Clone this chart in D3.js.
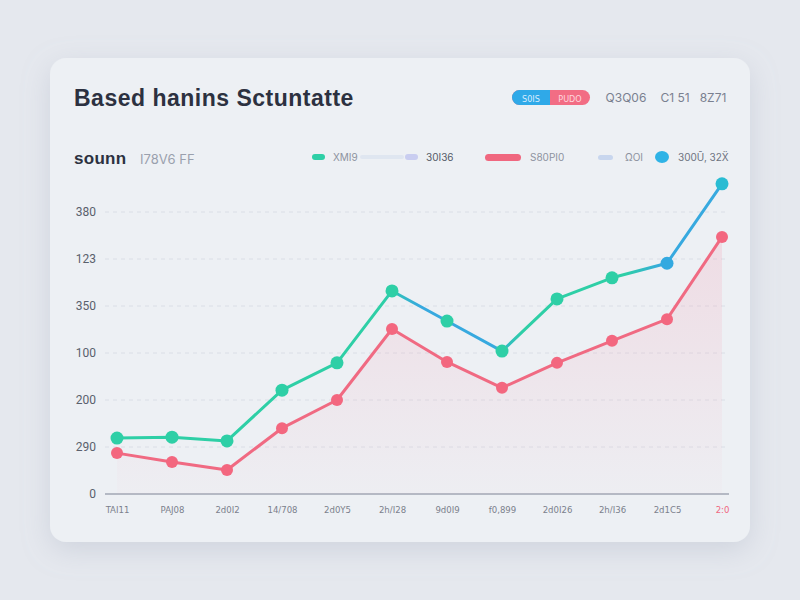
<!DOCTYPE html>
<html><head><meta charset="utf-8">
<script src="https://cdn.jsdelivr.net/npm/d3@7"></script>
<style>
html,body{margin:0;padding:0;background:#e5e8ee;}
svg{display:block;font-family:"Inter","Roboto",sans-serif;}
</style></head>
<body>
<svg id="c" width="800" height="600"></svg>
<script>
// ---- data ----
const categories = ["TAI11","PAJ08","2d0I2","14/708","2d0Y5","2h/I28","9d0I9","f0,899","2d0I26","2h/I36","2d1C5","2:0"];
const topSeries = [119, 121, 113, 221, 279, 432, 368, 304, 415, 460, 491, 660];
const pinkSeries = [87, 68, 51, 140, 200, 351, 281, 226, 279, 326, 372, 547];
const yTickValues = [0, 100, 200, 300, 400, 500, 600];
const yTickLabels = ["0", "290", "200", "100", "350", "123", "380"];
const titleText = "Based hanins Sctuntatte";
const subtitleBold = "sounn";
const subtitleLight = "I78V6 FF";
const pillLabels = ["S0IS", "PUDO"];
const headerStats = ["Q3Q06", "C1 51", "8Z71"];
const legendLabels = ["XMI9", "30I36", "S80PI0", "ΩOI", "300Ũ, 32Ẍ"];

const svg = d3.select("#c");
const defs = svg.append("defs");

// shadow
const f = defs.append("filter").attr("id","sh").attr("x","-20%").attr("y","-20%").attr("width","140%").attr("height","140%");
f.append("feDropShadow").attr("dx",0).attr("dy",8).attr("stdDeviation",14).attr("flood-color","#9aa3b5").attr("flood-opacity",0.3);

// card
svg.append("rect").attr("x",50).attr("y",58).attr("width",700).attr("height",484).attr("rx",16)
  .attr("fill","#edf0f4").attr("filter","url(#sh)");

// title
svg.append("text").attr("x",74).attr("y",106).text(titleText)
  .attr("font-size",23).attr("font-weight",700).attr("fill","#2c3140").attr("font-family","Liberation Sans, Arial, sans-serif").attr("letter-spacing",0.5);

// pill
svg.append("rect").attr("x",512).attr("y",90).attr("width",78).attr("height",15).attr("rx",7.5).attr("fill","#f26d84");
svg.append("path").attr("d","M550,90 H519.5 A7.5,7.5 0 0 0 519.5,105 H550 Z").attr("fill","#2fa9e8");
svg.append("text").attr("x",531).attr("y",101.5).attr("text-anchor","middle").attr("font-size",9).attr("fill","#d8ecff").attr("font-family","DejaVu Sans Condensed, sans-serif").text(pillLabels[0]);
svg.append("text").attr("x",570).attr("y",101.5).attr("text-anchor","middle").attr("font-size",9).attr("fill","#ffd6de").attr("font-family","DejaVu Sans Condensed, sans-serif").text(pillLabels[1]);
const statX = [626, 675, 713];
headerStats.forEach((s,i)=>{
  svg.append("text").attr("x",statX[i]).attr("y",102).attr("text-anchor","middle").attr("font-size",12).attr("fill","#7a8090").text(s);
});

// subtitle
svg.append("text").attr("x",74).attr("y",164).attr("font-size",17).attr("font-weight",700).attr("fill","#2c3140")
  .attr("font-family","Liberation Sans, Arial, sans-serif").attr("letter-spacing",0.3).text(subtitleBold);
svg.append("text").attr("x",140).attr("y",164).attr("font-size",13).attr("fill","#9aa0ad").text(subtitleLight);

// legend
const lg = svg.append("g");
lg.append("rect").attr("x",312).attr("y",154).attr("width",13).attr("height",6).attr("rx",3).attr("fill","#2ecfa6");
lg.append("text").attr("x",333).attr("y",161).attr("font-size",10).attr("fill","#8d93a0").text(legendLabels[0]);
lg.append("rect").attr("x",360).attr("y",155).attr("width",44).attr("height",4).attr("rx",2).attr("fill","#dfe6f0");
lg.append("rect").attr("x",405).attr("y",154).attr("width",13).attr("height",6).attr("rx",3).attr("fill","#c9cdf0");
lg.append("text").attr("x",426).attr("y",161).attr("font-size",10).attr("fill","#555b68").text(legendLabels[1]);
lg.append("rect").attr("x",485).attr("y",154).attr("width",36).attr("height",7).attr("rx",3.5).attr("fill","#f0677f");
lg.append("text").attr("x",530).attr("y",161).attr("font-size",10).attr("fill","#8d93a0").text(legendLabels[2]);
lg.append("rect").attr("x",598).attr("y",155).attr("width",15).attr("height",5).attr("rx",2.5).attr("fill","#c8d6ee");
lg.append("text").attr("x",625).attr("y",161).attr("font-size",10).attr("fill","#8d93a0").text(legendLabels[3]);
lg.append("ellipse").attr("cx",662).attr("cy",157).attr("rx",7).attr("ry",6).attr("fill","#2fb3e6");
lg.append("text").attr("x",678).attr("y",161).attr("font-size",10).attr("fill","#6d7380").text(legendLabels[4]);

// scales
const x = d3.scalePoint().domain(categories).range([117, 722]);
const y = d3.scaleLinear().domain([0, 600]).range([494, 212]);

// grid
const grid = svg.append("g");
yTickValues.slice(1).forEach(v=>{
  grid.append("line").attr("x1",105).attr("x2",728).attr("y1",y(v)).attr("y2",y(v))
    .attr("stroke","#dadee6").attr("stroke-width",1).attr("stroke-dasharray","4,4");
});

// y axis labels
const yAxis = d3.axisLeft(y).tickValues(yTickValues).tickSize(0).tickPadding(0)
  .tickFormat((d,i)=>yTickLabels[i]);
const yg = svg.append("g").attr("transform","translate(96,0)").call(yAxis);
yg.select(".domain").remove();
yg.selectAll("text").attr("font-size",12).attr("fill","#5a606c").attr("font-family","Roboto, sans-serif");

// x axis
const xAxis = d3.axisBottom(x).tickSize(0).tickPadding(12);
const xg = svg.append("g").attr("transform","translate(0,494)").call(xAxis);
xg.select(".domain").remove();
xg.selectAll("text").attr("font-size",9.5).attr("font-family","DejaVu Sans Condensed, sans-serif")
  .attr("fill",(d,i)=> i===categories.length-1 ? "#f0677f" : "#7b808c");
svg.append("line").attr("x1",105).attr("x2",729).attr("y1",494).attr("y2",494).attr("stroke","#b4b9c4").attr("stroke-width",2);

// pink area
const ag = defs.append("linearGradient").attr("id","pinkArea").attr("x1",0).attr("x2",0).attr("y1",0).attr("y2",1);
ag.append("stop").attr("offset","0%").attr("stop-color","#f4a0b4").attr("stop-opacity",0.25);
ag.append("stop").attr("offset","100%").attr("stop-color","#f4a0b4").attr("stop-opacity",0.03);
const area = d3.area().x((d,i)=>x(categories[i])).y0(y(0)).y1(d=>y(d));
svg.append("path").datum(pinkSeries).attr("d",area).attr("fill","url(#pinkArea)");

// top line gradient
const lgd = defs.append("linearGradient").attr("id","topGrad").attr("gradientUnits","userSpaceOnUse")
  .attr("x1",117).attr("x2",722).attr("y1",0).attr("y2",0);
[[0,"#2ecfa6"],[0.44,"#2ecfa6"],[0.5,"#37a9df"],[0.62,"#37a9df"],[0.67,"#2ecfa6"],[0.84,"#2ecfa6"],[0.9,"#37a9df"],[1,"#37a9df"]]
  .forEach(s=>lgd.append("stop").attr("offset",s[0]).attr("stop-color",s[1]));

const line = d3.line().x((d,i)=>x(categories[i])).y(d=>y(d));
svg.append("path").datum(pinkSeries).attr("d",line).attr("fill","none").attr("stroke","#f06a82").attr("stroke-width",3).attr("stroke-linejoin","round");
svg.append("path").datum(topSeries).attr("d",line).attr("fill","none").attr("stroke","url(#topGrad)").attr("stroke-width",3).attr("stroke-linejoin","round");

svg.append("g").selectAll("circle").data(pinkSeries).join("circle")
  .attr("cx",(d,i)=>x(categories[i])).attr("cy",d=>y(d)).attr("r",6).attr("fill","#f3677f");
svg.append("g").selectAll("circle").data(topSeries).join("circle")
  .attr("cx",(d,i)=>x(categories[i])).attr("cy",d=>y(d)).attr("r",6.5)
  .attr("fill",(d,i)=> i===10 ? "#33a9e0" : (i===11 ? "#29bcd3" : "#2ecfa6"));
</script>
</body></html>
